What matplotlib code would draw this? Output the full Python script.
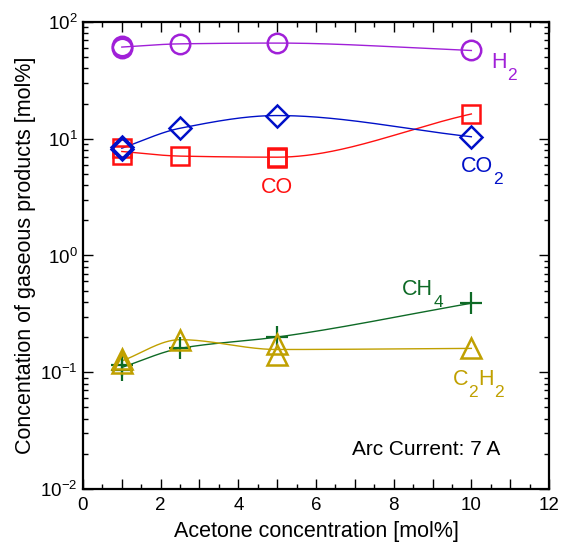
import numpy as np
import matplotlib
matplotlib.use("Agg")
import matplotlib.pyplot as plt
from matplotlib.ticker import MultipleLocator, FuncFormatter, LogLocator, LogFormatterMathtext, NullFormatter

plt.rcParams['font.family'] = ['Liberation Sans', 'DejaVu Sans']
plt.rcParams['mathtext.fontset'] = 'custom'
plt.rcParams['mathtext.rm'] = 'Liberation Sans'
plt.rcParams['mathtext.it'] = 'Liberation Sans'
plt.rcParams['mathtext.default'] = 'regular'

# Data (acetone concentration [mol%] vs product concentration [mol%])
h2_x = [1, 1, 2.5, 5, 10]
h2_y = [62, 60, 65, 66, 57]
co_x = [1, 1, 2.5, 5, 5, 10]
co_y = [8.4, 7.2, 7.1, 7.0, 6.9, 16.3]
co2_x = [1, 1, 2.5, 5, 10]
co2_y = [8.5, 8.1, 12.3, 15.8, 10.4]
ch4_x = [1, 1, 2.5, 5, 10]
ch4_y = [0.115, 0.105, 0.16, 0.2, 0.39]
c2h2_x = [1, 1, 2.5, 5, 5, 10]
c2h2_y = [0.13, 0.12, 0.19, 0.175, 0.14, 0.16]

series = [
    ("H2", h2_x, h2_y, "#A020D8", "o", 14),
    ("CO", co_x, co_y, "#FF1010", "s", 13.5),
    ("CO2", co2_x, co2_y, "#0010C8", "D", 11),
    ("CH4", ch4_x, ch4_y, "#0E6A26", "+", 16),
    ("C2H2", c2h2_x, c2h2_y, "#C0A000", "^", 15),
]

def pchip(xk, yk, xs):
    xk = np.asarray(xk, float); yk = np.asarray(yk, float)
    h = np.diff(xk); d = np.diff(yk) / h
    n = len(xk)
    m = np.zeros(n)
    for i in range(1, n - 1):
        if d[i - 1] * d[i] > 0:
            w1 = 2 * h[i] + h[i - 1]; w2 = h[i] + 2 * h[i - 1]
            m[i] = (w1 + w2) / (w1 / d[i - 1] + w2 / d[i])
        else:
            m[i] = 0.0
    m[0] = d[0]
    m[-1] = d[-1]
    out = np.empty_like(xs)
    for j, x in enumerate(xs):
        i = min(max(np.searchsorted(xk, x) - 1, 0), n - 2)
        t = (x - xk[i]) / h[i]
        h00 = 2*t**3 - 3*t**2 + 1; h10 = t**3 - 2*t**2 + t
        h01 = -2*t**3 + 3*t**2; h11 = t**3 - t**2
        out[j] = h00*yk[i] + h10*h[i]*m[i] + h01*yk[i+1] + h11*h[i]*m[i+1]
    return out

fig = plt.figure(figsize=(5.66, 5.5), dpi=100)
ax = fig.add_axes([0.1466, 0.111, 0.9700 - 0.1466, 0.960 - 0.111])

for name, xs, ys, col, mk, ms in series:
    xs = np.asarray(xs, float); ys = np.asarray(ys, float)
    ux = np.unique(xs)
    uy = np.array([np.mean(np.log10(ys[xs == u])) for u in ux])
    xx = np.linspace(ux.min(), ux.max(), 300)
    yy = 10 ** pchip(ux, uy, xx)
    ax.plot(xx, yy, color=col, lw=1.0, zorder=2)
    if mk == "+":
        ax.plot(xs, ys, ls='none', marker=mk, ms=ms, mew=1.6, color=col, zorder=3)
    else:
        ax.plot(xs, ys, ls='none', marker=mk, ms=ms, mfc='none', mec=col, mew=1.8, zorder=3)

ax.set_yscale('log')
ax.set_xlim(0, 12)
ax.set_ylim(1e-2, 1e2)
ax.xaxis.set_major_locator(MultipleLocator(1))
ax.xaxis.set_minor_locator(MultipleLocator(0.5))
ax.xaxis.set_major_formatter(FuncFormatter(lambda v, p: f"{int(round(v))}" if int(round(v)) % 2 == 0 else ""))
ax.yaxis.set_major_locator(LogLocator(base=10, numticks=10))
ax.yaxis.set_minor_locator(LogLocator(base=10, subs=np.arange(2, 10), numticks=10))
ax.yaxis.set_major_formatter(LogFormatterMathtext())
ax.yaxis.set_minor_formatter(NullFormatter())
ax.tick_params(which='both', direction='in', top=True, right=True, width=1.0, labelsize=13.5, colors='black')
ax.tick_params(which='major', length=7)
ax.tick_params(which='minor', length=3.5)
ax.tick_params(axis='x', which='major', pad=6)
ax.tick_params(axis='y', which='major', pad=4)
for s in ax.spines.values():
    s.set_linewidth(1.6)

ax.set_xlabel("Acetone concentration [mol%]", fontsize=15.5, labelpad=5)
ax.set_ylabel("Concentation of gaseous products [mol%]", fontsize=15.5, labelpad=3)

LAB_FS = 15.5
SUB_FS = 12.5
DROP = 6.5          # subscript baseline drop in points
DESC = 0.212        # approximate font descent fraction (em)

def chem_label(x, y, parts, color):
    """parts: list of (text, is_subscript). Baseline of main text at (x, y)."""
    prev = ax.text(x, y, parts[0][0], color=color, fontsize=LAB_FS, va='baseline', ha='left')
    prev_sub = parts[0][1]
    for txt, is_sub in parts[1:]:
        fs_prev = SUB_FS if prev_sub else LAB_FS
        fs_cur = SUB_FS if is_sub else LAB_FS
        # bottom of prev bbox = prev baseline - DESC*fs_prev ; new baseline = bottom + DESC*fs_cur + shift
        shift = 0.0
        if is_sub and not prev_sub:
            shift = -DROP
        elif prev_sub and not is_sub:
            shift = DROP
        dy = shift + DESC * fs_cur - DESC * fs_prev
        prev = ax.annotate(txt, xy=(1, 0), xycoords=prev, xytext=(0, dy),
                           textcoords='offset points', color=color, fontsize=fs_cur,
                           va='bottom', ha='left')
        prev_sub = is_sub

chem_label(10.51, 40.4, [("H", False), ("2", True)], "#A020D8")
chem_label(9.73, 5.19, [("CO", False), ("2", True)], "#0010C8")
ax.text(5.0, 3.43, "CO", color="#FF1010", fontsize=LAB_FS, va='baseline', ha='center')
chem_label(8.22, 0.459, [("CH", False), ("4", True)], "#0E6A26")
chem_label(9.53, 0.0778, [("C", False), ("2", True), ("H", False), ("2", True)], "#C0A000")
ax.text(10.74, 0.01954, "Arc Current: 7 A", color="black", fontsize=15, va='baseline', ha='right')

fig.savefig("out.png", dpi=100)
